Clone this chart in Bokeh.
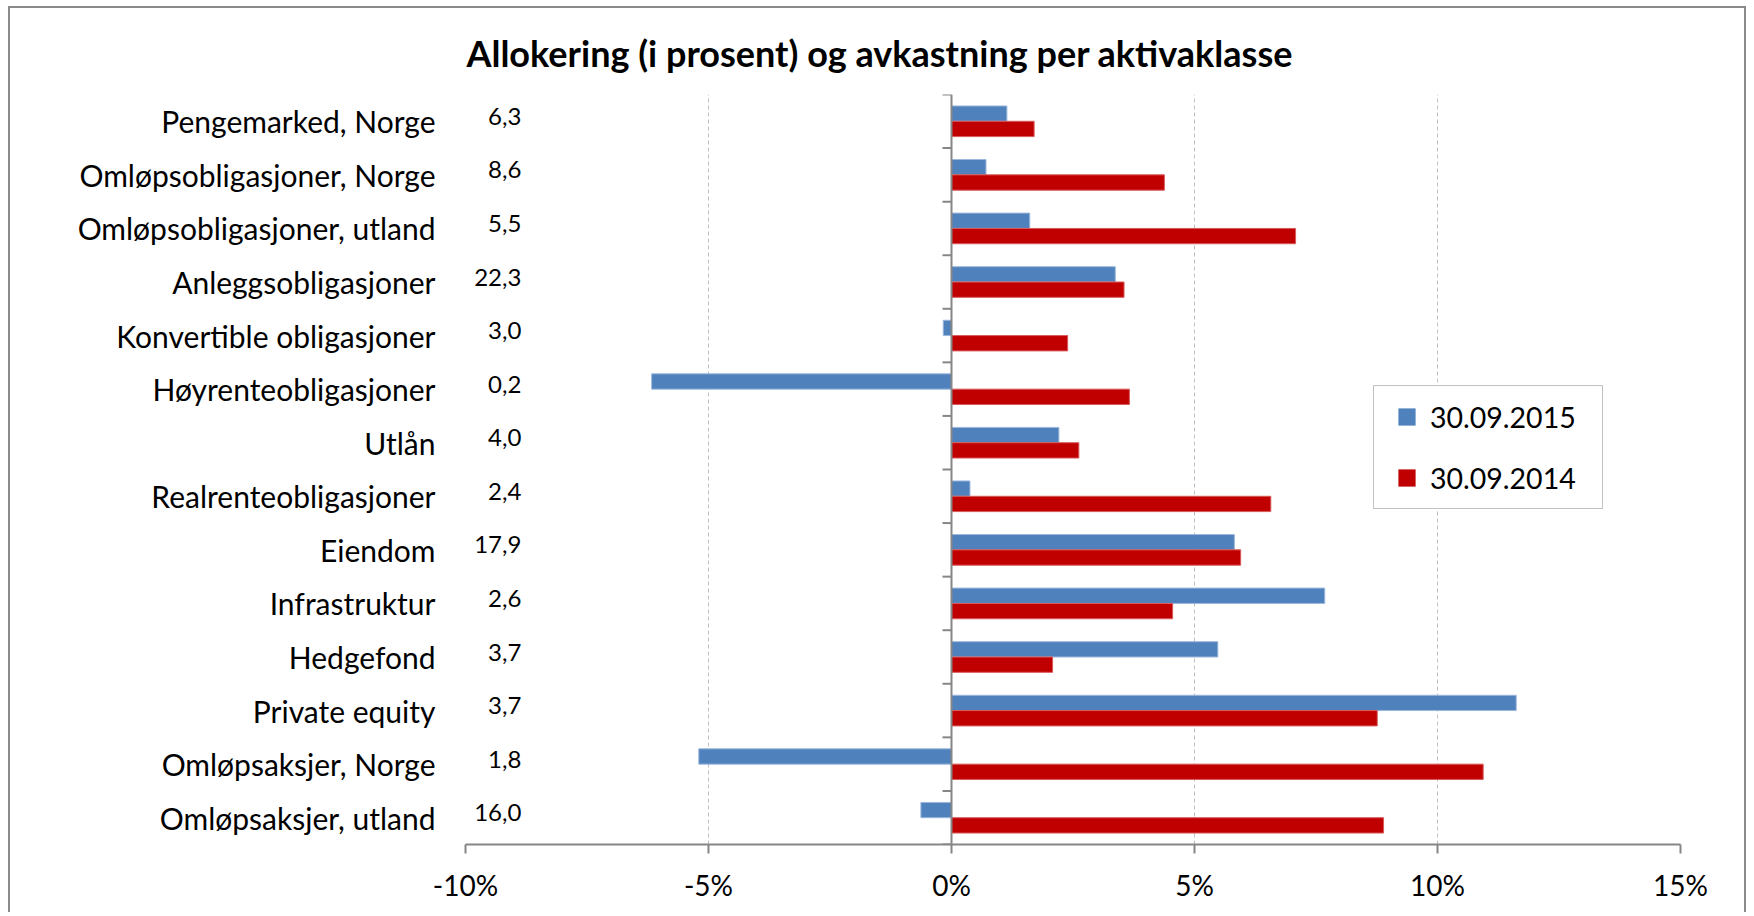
import numpy as np
from bokeh.plotting import figure
from bokeh.models import (FactorRange, Range1d, FixedTicker, Span, Legend, LegendItem,
                          ColumnDataSource)
from bokeh.transform import dodge
from bokeh.core.properties import value
from bokeh.embed import file_html
from bokeh.resources import INLINE

# ---------------- data ----------------
categories = ["Pengemarked, Norge", "Omløpsobligasjoner, Norge", "Omløpsobligasjoner, utland",
              "Anleggsobligasjoner", "Konvertible obligasjoner", "Høyrenteobligasjoner", "Utlån",
              "Realrenteobligasjoner", "Eiendom", "Infrastruktur", "Hedgefond", "Private equity",
              "Omløpsaksjer, Norge", "Omløpsaksjer, utland"]
allocation = ["6,3", "8,6", "5,5", "22,3", "3,0", "0,2", "4,0", "2,4", "17,9", "2,6", "3,7",
              "3,7", "1,8", "16,0"]
return_2015 = [1.14, 0.71, 1.61, 3.37, -0.17, -6.17, 2.21, 0.38, 5.82, 7.68, 5.48, 11.62, -5.20, -0.63]
return_2014 = [1.70, 4.38, 7.08, 3.55, 2.39, 3.66, 2.62, 6.57, 5.95, 4.55, 2.08, 8.76, 10.94, 8.89]
series_names = ["30.09.2015", "30.09.2014"]
tick_values = [-10, -5, 0, 5, 10, 15]
tick_labels = ["-10%", "-5%", "0%", "5%", "10%", "15%"]
title_text = "Allokering (i prosent) og avkastning per aktivaklasse"

# ---------------- style ----------------
FONT = "Lato"
BLUE = "#4F81BD"
RED = "#C00000"
AXIS = "#868686"
W, H = 1738, 906

p = figure(width=W, height=H,
           y_range=FactorRange(factors=list(reversed(categories))),
           x_range=Range1d(tick_values[0], tick_values[-1]),
           output_backend="svg", toolbar_location=None,
           min_border_left=455, min_border_right=68, min_border_top=86, min_border_bottom=70)
p.outline_line_color = None
p.background_fill_color = "white"
p.border_fill_color = "white"
p.styles = {"margin-left": "8px", "margin-top": "6px",
            "border-top": "2px solid #8a8a8a", "border-left": "2px solid #8a8a8a",
            "border-right": "2px solid #8a8a8a"}

p.title.text = title_text
p.title.text_font = FONT
p.title.text_font_style = "bold"
p.title.text_font_size = "36px"
p.title.text_color = "black"
p.title.align = "left"
p.title.offset = 1
p.title.standoff = 39

# y axis (category labels only)
p.yaxis.axis_line_color = None
p.yaxis.major_tick_line_color = None
p.yaxis.minor_tick_line_color = None
p.yaxis.major_tick_out = 0
p.yaxis.major_tick_in = 0
p.yaxis.major_label_standoff = 30
p.yaxis.major_label_text_font = FONT
p.yaxis.major_label_text_font_size = "30px"
p.yaxis.major_label_text_color = "black"

# x axis
p.xaxis.ticker = FixedTicker(ticks=tick_values)
p.xaxis.major_label_overrides = {t: l for t, l in zip(tick_values, tick_labels)}
p.xaxis.axis_line_color = AXIS
p.xaxis.axis_line_width = 2
p.xaxis.major_tick_line_color = AXIS
p.xaxis.major_tick_line_width = 2
p.xaxis.major_tick_out = 9
p.xaxis.major_tick_in = 0
p.xaxis.minor_tick_line_color = None
p.xaxis.major_label_standoff = 14
p.xaxis.major_label_text_font = FONT
p.xaxis.major_label_text_font_size = "28px"
p.xaxis.major_label_text_color = "black"

p.xgrid.ticker = FixedTicker(ticks=[t for t in tick_values if t not in (tick_values[0], 0)])
p.xgrid.grid_line_color = "#bfbfbf"
p.xgrid.grid_line_dash = "4 3"
p.xgrid.grid_line_width = 1
p.ygrid.visible = False

src = ColumnDataSource(dict(cat=categories, v15=return_2015, v14=return_2014, alloc=allocation))
top_src = ColumnDataSource(dict(cat=categories[:1]))

BH = 0.286
p.hbar(y=dodge("cat", BH / 2, range=p.y_range), left=0, right="v15", height=BH,
       source=src, fill_color=BLUE, line_color="#9DB8DC", line_width=1)
p.hbar(y=dodge("cat", -BH / 2, range=p.y_range), left=0, right="v14", height=BH,
       source=src, fill_color=RED, line_color="#D85A5A", line_width=1)

# vertical zero axis with category-boundary ticks
p.add_layout(Span(location=0, dimension="height", line_color=AXIS, line_width=2))
p.ray(x=0, y=dodge("cat", -0.5, range=p.y_range), length=9, length_units="screen",
      angle=np.pi, source=src, line_color=AXIS, line_width=2)
p.ray(x=0, y=dodge("cat", 0.5, range=p.y_range), length=9, length_units="screen",
      angle=np.pi, source=top_src, line_color=AXIS, line_width=2)

# allocation numbers
p.text(x=-8.85, y="cat", text="alloc", source=src, text_align="right", text_baseline="middle",
       text_font=value(FONT), text_font_size="24px", text_color="black", y_offset=-5)

# legend proxies (size 0 so invisible in plot; legend draws square from glyph box)
prox15 = p.scatter(x=0, y="cat", source=src, size=0, marker="square", fill_color=BLUE, line_color=None)
prox14 = p.scatter(x=0, y="cat", source=src, size=0, marker="square", fill_color=RED, line_color=None)

legend = Legend(items=[LegendItem(label=value(series_names[0]), renderers=[prox15]),
                       LegendItem(label=value(series_names[1]), renderers=[prox14])],
                location=(908, 335), orientation="vertical", padding=9, spacing=18,
                glyph_width=47, glyph_height=43, label_standoff=0, label_width=163,
                label_height=20, margin=0,
                border_line_color=AXIS, border_line_width=1.5,
                background_fill_color="white", background_fill_alpha=1.0,
                label_text_font=FONT, label_text_font_size="28.5px", label_text_color="black")
p.add_layout(legend)

open("out.html", "w").write(file_html(p, INLINE))
